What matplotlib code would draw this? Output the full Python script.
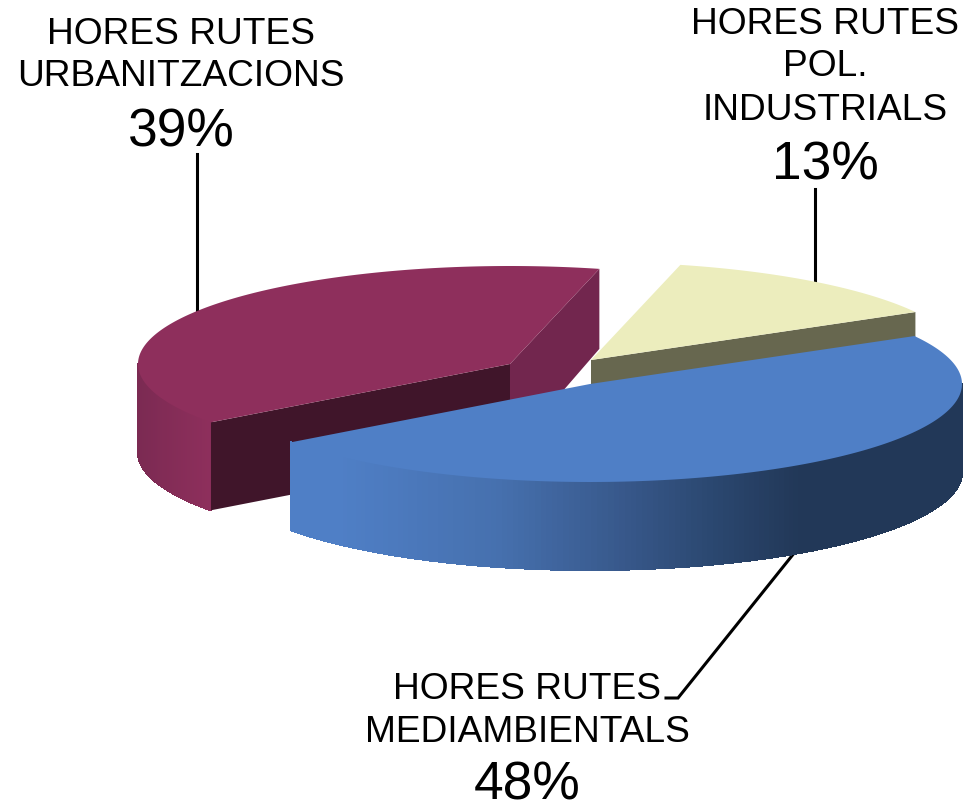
import numpy as np
import matplotlib
matplotlib.use("Agg")
import matplotlib.pyplot as plt
from matplotlib.collections import PolyCollection
from matplotlib.colors import to_rgb

# values of the chart, clockwise from the start angle
names = ["HORES RUTES\nMEDIAMBIENTALS", "HORES RUTES\nPOL.\nINDUSTRIALS", "HORES RUTES\nURBANITZACIONS"]
shares = [48, 13, 39]
pct_labels = ["48%", "13%", "39%"]

top_colors = ["#4F7FC6", "#ECEDBD", "#8E2F5C"]
yellow_cut = "#67674F"
red_cut = "#40152A"
red_end = "#72264E"

plt.rcParams['font.family'] = ['Liberation Sans', 'DejaVu Sans']

fig = plt.figure(figsize=(9.65, 8.03), dpi=100)
ax = fig.add_axes([0, 0, 1, 1])
ax.set_xlim(0, 965)
ax.set_ylim(803, 0)
ax.axis('off')

# pie shape in pixels
rx, ry, depth = 372, 98, 88
start = 29.3
centers = [(590, 385), (591, 361), (510, 365)]


def rim(cx, cy, t):
    return cx + rx * np.cos(np.radians(t)), cy - ry * np.sin(np.radians(t))


def side_color(i, x):
    if i == 0:
        xs = [290, 340, 500, 620, 720, 800]
        stops = ["#4F7FC6", "#4F7FC6", "#4670AE", "#38598C", "#2A466E", "#223858"]
    else:
        xs = [136, 165, 212]
        stops = ["#7A2A52", "#822C56", "#8E2F5C"]
    rgb = np.array([to_rgb(c) for c in stops])
    return [np.interp(x, xs, rgb[:, k]) for k in range(3)]


def draw_wall(i, a0, a1):
    cx, cy = centers[i]
    ts = np.linspace(a0, a1, 200)
    xs, ys = rim(cx, cy, ts)
    polys, cols = [], []
    for k in range(len(ts) - 1):
        # only the part of the wall that faces us
        if np.sin(np.radians((ts[k] + ts[k + 1]) / 2)) > 0:
            continue
        polys.append([(xs[k], ys[k]), (xs[k + 1], ys[k + 1]),
                      (xs[k + 1], ys[k + 1] + depth), (xs[k], ys[k] + depth)])
        cols.append(side_color(i, (xs[k] + xs[k + 1]) / 2))
    ax.add_collection(PolyCollection(polys, facecolors=cols, edgecolors=cols,
                                     linewidths=0.8, antialiaseds=False))


def draw_cut(i, t, col, d=depth):
    cx, cy = centers[i]
    ex, ey = rim(cx, cy, t)
    ax.fill([cx, ex, ex, cx], [cy, ey, ey + d, cy + depth], color=col, lw=0)


def draw_top(i, a0, a1):
    cx, cy = centers[i]
    xs, ys = rim(cx, cy, np.linspace(a0, a1, 200))
    ax.fill(np.r_[cx, xs], np.r_[cy, ys], color=top_colors[i], lw=0)


# slice angles come from the shares
spans = [s / sum(shares) * 360 for s in shares]
blue = (start - spans[0], start)
yellow = (start, start + spans[1])
red = (start + spans[1], start + spans[1] + spans[2])

# leader lines go behind the pie
ax.plot([197, 197], [155, 312], color='black', lw=2.2, zorder=0.5)
ax.plot([815, 815], [190, 285], color='black', lw=2.2, zorder=0.5)
ax.plot([795, 678, 666], [553, 699, 699], color='black', lw=2.2, zorder=0.5, solid_joinstyle='miter')

# back to front
draw_wall(2, red[0], red[1])
draw_cut(2, red[0], red_end, depth - 8)
draw_cut(2, red[1], red_cut)
draw_top(2, red[0], red[1])

draw_cut(1, yellow[0], yellow_cut)
draw_top(1, yellow[0], yellow[1])

draw_wall(0, blue[0], blue[1])
draw_top(0, blue[0], blue[1])

# labels
label_x = [527, 825, 181]
label_y = [[686, 729], [20, 63, 107], [30, 73]]
pct_y = [780, 160, 127]
for i in range(3):
    for line, y in zip(names[i].split("\n"), label_y[i]):
        ax.text(label_x[i], y, line, fontsize=26.7, ha='center', va='center_baseline', color='black')
    ax.text(label_x[i], pct_y[i], pct_labels[i], fontsize=38.3, ha='center', va='center_baseline', color='black')

plt.savefig("out.png", dpi=100)
